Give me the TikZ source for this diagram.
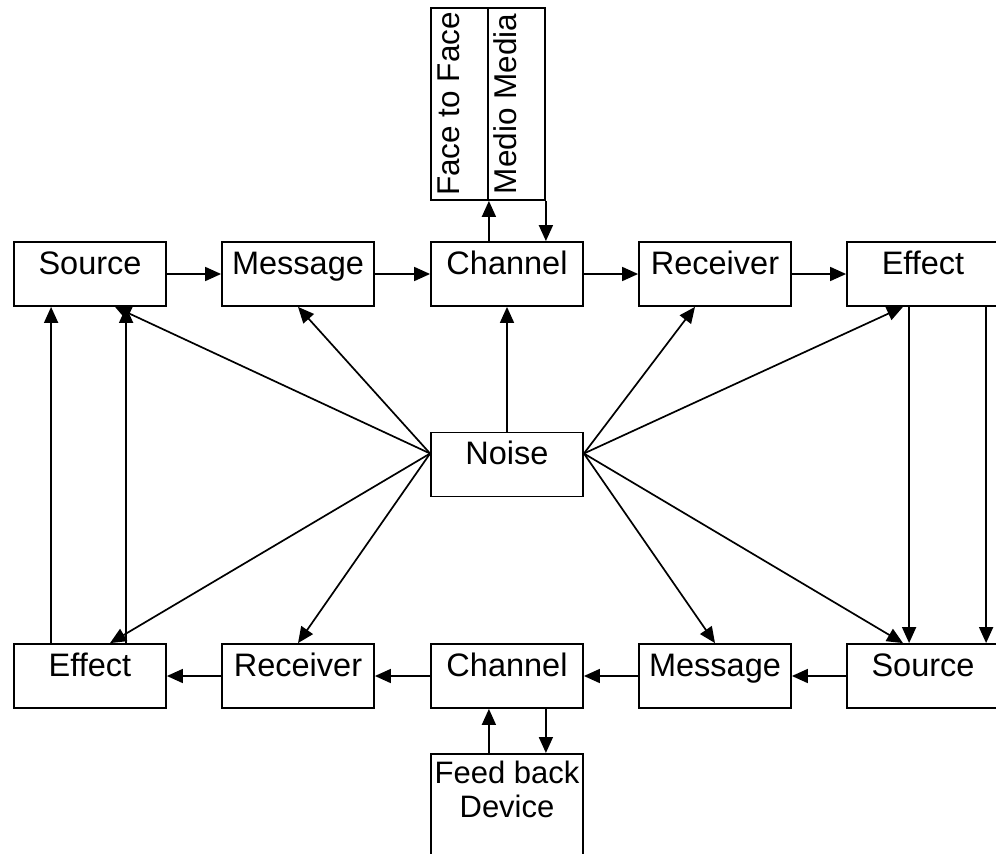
\documentclass[tikz,border=0pt]{standalone}
\usepackage{fontspec}
\setmainfont{Liberation Sans}
\usetikzlibrary{arrows.meta}
\tikzset{
	box/.style={draw, line width=1.8pt, inner sep=0pt, minimum width=152pt, minimum height=64pt, text height=23pt, text depth=23pt, font=\fontsize{32.5}{36}\selectfont},
	col/.style={draw, line width=1.8pt, inner sep=0pt, minimum width=57pt, minimum height=192pt, font=\fontsize{31.5}{36}\selectfont},
	arr/.style={-{Triangle[length=16pt,width=14pt]}, line width=1.7pt}
}
\newcommand{\uptext}[1]{\rotatebox{90}{#1\rule[-22pt]{0pt}{22pt}}}

\begin{document}
\begin{tikzpicture}[x=1pt,y=-1pt]
	\useasboundingbox (0,0) rectangle (996,854);
	\node[box] (src1) at (90,274) {Source};
	\node[box] (msg1) at (298,274) {Message};
	\node[box] (ch1) at (507,274) {Channel};
	\node[box] (rec1) at (715,274) {Receiver};
	\node[box] (eff1) at (923,274) {Effect};
	\node[box] (noise) at (507,464.5) {Noise};
	\node[box] (eff2) at (90,676) {Effect};
	\node[box] (rec2) at (298,676) {Receiver};
	\node[box] (ch2) at (507,676) {Channel};
	\node[box] (msg2) at (715,676) {Message};
	\node[box] (src2) at (923,676) {Source};
	\node[col] (face) at (459.5,104) {\uptext{Face to Face}};
	\node[col] (medio) at (516.5,104) {\uptext{Medio Media}};
	\node[draw, line width=1.8pt, minimum width=152pt, minimum height=140pt, anchor=north] (feed) at (507,753) {};
	\node[align=center, inner sep=0pt, anchor=north, font=\fontsize{31}{34}\selectfont] (feedtext) at ([yshift=-8pt]feed.north) {Feed back\\Device};
	\draw[arr] (src1) -- (msg1);
	\draw[arr] (msg1) -- (ch1);
	\draw[arr] (ch1) -- (rec1);
	\draw[arr] (rec1) -- (eff1);
	\draw[arr] (src2) -- (msg2);
	\draw[arr] (msg2) -- (ch2);
	\draw[arr] (ch2) -- (rec2);
	\draw[arr] (rec2) -- (eff2);
	\draw[arr] (ch1.north -| face.east) -- (face.south east);
	\draw[arr] (medio.south east) -- (medio.south east |- ch1.north);
	\draw[arr] (face.east |- feed.north) -- (face.east |- ch2.south);
	\draw[arr] (medio.east |- ch2.south) -- (medio.east |- feed.north);
	\draw[arr] (noise) -- (ch1);
	\coordinate (nw) at ([yshift=11pt]noise.west);
	\coordinate (ne) at ([yshift=11pt]noise.east);
	\draw[arr] (nw) -- ([xshift=25pt]src1.south);
	\draw[arr] (nw) -- (msg1.south);
	\draw[arr] (nw) -- ([xshift=20pt]eff2.north);
	\draw[arr] (nw) -- (rec2.north);
	\draw[arr] (ne) -- ([xshift=-20pt]rec1.south);
	\draw[arr] (ne) -- ([xshift=-20pt]eff1.south);
	\draw[arr] (ne) -- (msg2.north);
	\draw[arr] (ne) -- ([xshift=-20pt]src2.north);
	\draw[arr] ([xshift=38pt]eff2.north west) -- ([xshift=38pt]src1.south west);
	\draw[arr] ([xshift=113pt]eff2.north west) -- ([xshift=113pt]src1.south west);
	\draw[arr] ([xshift=63pt]eff1.south west) -- ([xshift=63pt]src2.north west);
	\draw[arr] ([xshift=140pt]eff1.south west) -- ([xshift=140pt]src2.north west);
\end{tikzpicture}
\end{document}
